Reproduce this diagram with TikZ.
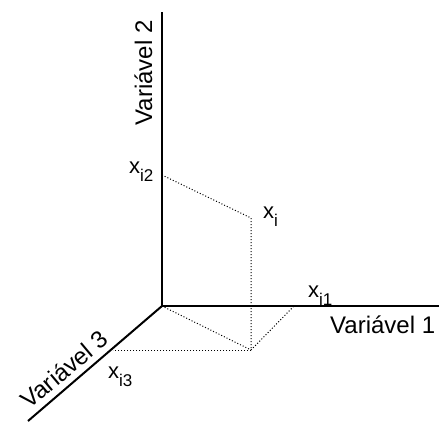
\documentclass[tikz,border=0pt]{standalone}
\usepackage{fontspec}
\setmainfont{Liberation Sans}
\usepackage{xcolor}
\usepackage{tikz}
\usetikzlibrary{positioning, calc}
\definecolor{ink}{HTML}{000000}
\newcommand{\subidx}[1]{\raisebox{-0.4em}{\fontsize{17}{17}\selectfont #1}}
\tikzset{
  axis/.style={draw=ink, line width=2pt},
  guide/.style={draw=ink, line width=1pt, dash pattern=on 1pt off 2pt},
  axislabel/.style={font=\fontsize{24}{28}\selectfont, text=ink, inner sep=0pt},
  coordlabel/.style={font=\fontsize{22}{26}\selectfont, text=ink, inner sep=0pt, anchor=base west},
}

\begin{document}
\begin{tikzpicture}[x=1pt, y=-1pt]
  % Three axes from a common origin, with the point x_i projected onto them.
  \useasboundingbox (0,0) rectangle (439,421);
  \coordinate (O) at (162,306);
  \coordinate (top2) at (162,12);
  \coordinate (end1) at (439,306);
  \coordinate (end3) at (28,421);
  \coordinate (p2) at (162,175);
  \coordinate (pt) at (251,218);
  \coordinate (base) at (251,350);
  \coordinate (p1) at (294,306);
  \coordinate (p3) at (113,350);
  \draw[guide] (p2) -- (pt) -- (base);
  \draw[guide] (O) -- (base);
  \draw[guide] (base) -- (p1);
  \draw[guide] (base) -- (p3);
  \draw[axis] (top2) -- (O) -- (end1);
  \draw[axis] (O) -- (end3);
  \node[axislabel, anchor=base west] (var1) at (330,333) {Variável 1};
  \node[axislabel, anchor=base, rotate=90] (var2) at (152,73) {Variável 2};
  \node[axislabel, anchor=base, rotate=40] (var3) at (70,376) {Variável 3};
  \node[coordlabel] (lab2) at (129,173) {x\subidx{i2}};
  \node[coordlabel] (labi) at (263,218) {x\subidx{i}};
  \node[coordlabel] (lab1) at (308,297) {x\subidx{i1}};
  \node[coordlabel] (lab3) at (108,378) {x\subidx{i3}};
\end{tikzpicture}
\end{document}
